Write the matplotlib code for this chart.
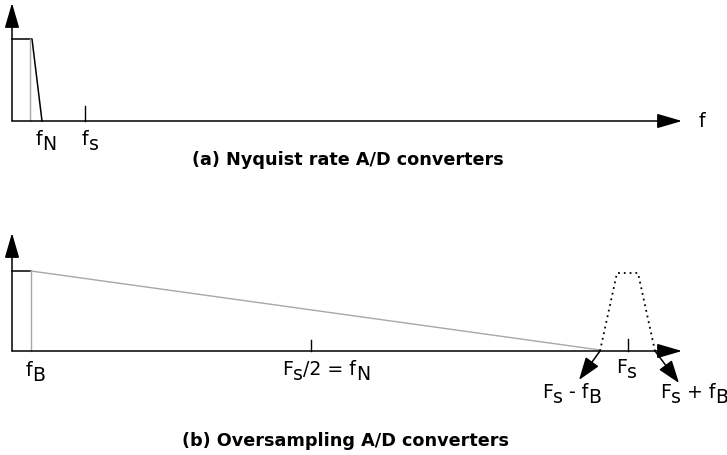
import matplotlib
matplotlib.use("Agg")
import matplotlib.pyplot as plt

plt.rcParams["font.family"] = ["DejaVu Sans"]

GRAY = "#a8a8a8"
LABEL_SIZE = 13.6
TITLE_SIZE = 12.7
SUB_DROP = 5

# diagram units are pixels of the 727x456 canvas (y grows downward)
# panel (a): Nyquist rate converter
a_base = 122
a_top = 4
a_axis_end = 682
a_spec_x = [12, 32, 42]
a_spec_y = [40, 40, 122]
a_fn_gray_x = 30
a_fs_tick_x = 85
a_tick_len = 15
# each label: list of (text, is_subscript), left x, baseline y
a_labels = [
    ([("f", False), ("N", True)], 36, 145),
    ([("f", False), ("s", True)], 82, 145),
    ([("f", False)], 699, 127),
]

# panel (b): oversampling converter
b_base = 352
b_top = 234
b_axis_end = 682
b_fb_x = 31
b_top_y = 272
b_roll_end_x = 600
b_fs2_x = 311
b_fs_x = 628
b_image_x = [600, 617, 638, 655]
b_image_y = [352, 274, 274, 352]
b_arrow_tips = [(579, 381), (679, 384)]
b_labels = [
    ([("f", False), ("B", True)], 26, 376),
    ([("F", False), ("s", True), ("/2 = f", False), ("N", True)], 282, 375),
    ([("F", False), ("s", True)], 616, 373),
    ([("F", False), ("s", True), (" - f", False), ("B", True)], 542, 398),
    ([("F", False), ("s", True), (" + f", False), ("B", True)], 660, 398),
]

titles = ["(a) Nyquist rate A/D converters", "(b) Oversampling A/D converters"]
title_x = [192, 182]
title_y = [165, 446]


def arrow(ax, start, tip, hw=0.32, hl=1.1, lw=1.1):
    ax.annotate("", xy=tip, xytext=start,
                arrowprops=dict(arrowstyle=f"-|>,head_length={hl},head_width={hw}",
                                lw=lw, color="black", shrinkA=0, shrinkB=0,
                                mutation_scale=14))


def advance(ax, renderer, s):
    # width of s including its spaces: measure between two x glyphs
    t1 = ax.text(0, 0, "x" + s + "x", fontsize=LABEL_SIZE)
    t2 = ax.text(0, 0, "xx", fontsize=LABEL_SIZE)
    w = t1.get_window_extent(renderer).width - t2.get_window_extent(renderer).width
    t1.remove()
    t2.remove()
    return w


def sub_label(ax, renderer, parts, x, y):
    for s, is_sub in parts:
        yy = y + SUB_DROP if is_sub else y
        ax.text(x, yy, s, fontsize=LABEL_SIZE, ha="left", va="baseline")
        x += advance(ax, renderer, s)


fig = plt.figure(figsize=(7.27, 4.56), dpi=100)
ax = fig.add_axes([0, 0, 1, 1])
ax.set_xlim(0, 727)
ax.set_ylim(456, 0)
ax.axis("off")
renderer = fig.canvas.get_renderer()

# ---- panel (a)
arrow(ax, (12, a_base), (12, a_top))
arrow(ax, (12, a_base), (a_axis_end, a_base))
ax.plot(a_spec_x, a_spec_y, color="black", lw=1.1)
ax.plot([a_fn_gray_x, a_fn_gray_x], [a_spec_y[0], a_base], color=GRAY, lw=1.0)
ax.plot([a_fs_tick_x, a_fs_tick_x], [a_base - a_tick_len, a_base], color="black", lw=1.0)
for parts, x, y in a_labels:
    sub_label(ax, renderer, parts, x, y)

# ---- panel (b)
arrow(ax, (12, b_base), (12, b_top))
arrow(ax, (12, b_base), (b_axis_end, b_base))
ax.plot([12, b_fb_x], [b_top_y, b_top_y], color="black", lw=1.1)
ax.plot([b_fb_x, b_fb_x], [b_top_y, b_base], color=GRAY, lw=1.0)
ax.plot([b_fb_x, b_roll_end_x], [b_top_y, b_base - 1], color=GRAY, lw=1.0)
ax.plot([b_fs2_x, b_fs2_x], [b_base - 11, b_base], color="black", lw=1.0)
ax.plot([b_fs_x, b_fs_x], [b_base - 12, b_base], color="black", lw=1.0)
ax.plot(b_image_x, b_image_y, color="black", lw=1.3, linestyle=(0, (1, 2.2)))
arrow(ax, (b_image_x[0], b_base), b_arrow_tips[0], hw=0.35, hl=1.0)
arrow(ax, (b_image_x[-1], b_base), b_arrow_tips[1], hw=0.35, hl=1.0)
for parts, x, y in b_labels:
    sub_label(ax, renderer, parts, x, y)

for t, x, y in zip(titles, title_x, title_y):
    ax.text(x, y, t, fontsize=TITLE_SIZE, fontweight="bold", ha="left", va="baseline")

fig.savefig("out.png", dpi=100)
